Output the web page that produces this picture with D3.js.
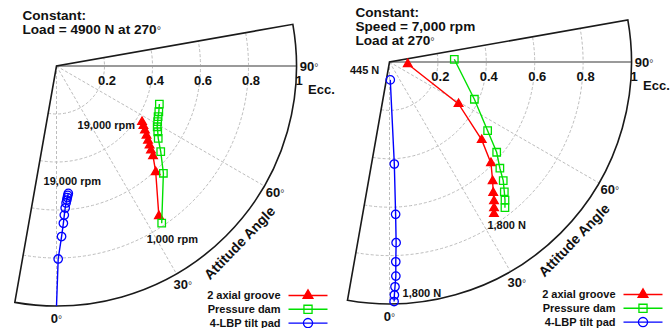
<!DOCTYPE html>
<html>
<head>
<meta charset="utf-8">
<script src="https://cdn.jsdelivr.net/npm/d3@7"></script>
<style>
  body { margin: 0; background: #fff; }
  svg { display: block; }
  text { font-family: "Liberation Sans", Arial, sans-serif; font-weight: bold; fill: #111; }
</style>
</head>
<body>
<svg id="chart" width="672" height="328"></svg>
<script>
// Eccentricity rings and attitude-angle spokes
const eccTicks = [0.2, 0.4, 0.6, 0.8, 1];
const eccTickLabels = ["0.2", "0.4", "0.6", "0.8", "1"];
const angleTicks = [0, 30, 60, 90];
const angleTickLabels = ["0°", "30°", "60°", "90°"];
const seriesNames = ["2 axial groove", "Pressure dam", "4-LBP tilt pad"];

// Constant load 4900 N, speed 1,000 -> 19,000 rpm (step 2,000 rpm)
const speedGrooveEcc = [0.757, 0.605, 0.550, 0.528, 0.510, 0.492, 0.474, 0.456, 0.440, 0.426];
const speedGrooveAng = [34.3, 43.1, 47.0, 48.2, 49.5, 50.8, 52.3, 53.9, 55.4, 56.8];
const speedDamEcc = [0.788, 0.631, 0.562, 0.520, 0.503, 0.490, 0.481, 0.473, 0.467, 0.457];
const speedDamAng = [33.8, 44.9, 50.6, 54.6, 57.0, 58.9, 61.2, 63.5, 65.9, 69.7];
const speedTiltEcc = [0.804, 0.711, 0.656, 0.622, 0.593, 0.572, 0.560, 0.550, 0.541, 0.533];
const speedTiltAng = [0.5, 1.7, 2.5, 3.0, 3.5, 4.0, 4.4, 4.7, 5.0, 5.3];
// tilt pad locus continues (unmarked) down to the bearing wall at zero speed
const speedTiltLeadEcc = [1.0];
const speedTiltLeadAng = [0.0];

// Constant speed 7,000 rpm, load 445 -> 1,800 N
const loadGrooveEcc = [0.076, 0.334, 0.499, 0.592, 0.651, 0.690, 0.719, 0.742, 0.762];
const loadGrooveAng = [83.7, 58.7, 49.8, 45.1, 40.9, 38.4, 36.9, 35.6, 34.5];
const loadDamEcc = [0.268, 0.383, 0.495, 0.579, 0.633, 0.679, 0.716, 0.744, 0.768];
const loadDamAng = [92.4, 66.3, 55.0, 49.9, 46.1, 43.8, 41.5, 39.9, 38.4];
const loadTiltEcc = [0.074, 0.422, 0.630, 0.747, 0.826, 0.885, 0.929, 0.963, 0.990];
const loadTiltAng = [2.5, 2.7, 2.3, 2.1, 1.8, 1.7, 1.4, 1.2, 1.1];

const zip = (ecc, ang) => ecc.map((e, i) => ({ e, t: ang[i] }));

const styles = [
  { color: "#ff0000", symbol: d3.symbolTriangle, size: 32, fill: true },
  { color: "#00e000", symbol: d3.symbolSquare, size: 56, fill: false },
  { color: "#0000ff", symbol: d3.symbolCircle, size: 56, fill: false }
];

const panels = [
  {
    cx: 56.5, cy: 66, R: 240,
    title: ["Constant:", "Load = 4900 N at 270°"], titleX: 22.5, titleY: 20,
    series: [
      { lead: [], pts: zip(speedGrooveEcc, speedGrooveAng) },
      { lead: [], pts: zip(speedDamEcc, speedDamAng) },
      { lead: zip(speedTiltLeadEcc, speedTiltLeadAng), pts: zip(speedTiltEcc, speedTiltAng) }
    ],
    notes: [
      { text: "19,000 rpm", s: 0, i: 9, dx: -7, dy: 7.5, anchor: "end" },
      { text: "19,000 rpm", s: 2, i: 9, dx: 4, dy: -8.5, anchor: "middle" },
      { text: "1,000 rpm", s: 0, i: 0, dx: 13.5, dy: 26.5, anchor: "middle" }
    ],
    legendY: 295.5
  },
  {
    cx: 389.5, cy: 62, R: 242,
    title: ["Constant:", "Speed = 7,000 rpm", "Load at 270°"], titleX: 355.5, titleY: 17,
    series: [
      { lead: [], pts: zip(loadGrooveEcc, loadGrooveAng) },
      { lead: [], pts: zip(loadDamEcc, loadDamAng) },
      { lead: [], pts: zip(loadTiltEcc, loadTiltAng) }
    ],
    notes: [
      { text: "445 N", s: 2, i: 0, dx: -11, dy: -6, anchor: "end" },
      { text: "1,800 N", s: 0, i: 8, dx: -6.5, dy: 15.5, anchor: "start" },
      { text: "1,800 N", s: 2, i: 8, dx: 8.5, dy: -4.5, anchor: "start" }
    ],
    legendY: 294.5
  }
];

const svg = d3.select("#chart");

// text with a light, small degree sign
function label(sel, str) {
  const parts = str.split("°");
  parts.forEach((p, k) => {
    if (p) sel.append("tspan").text(p);
    if (k < parts.length - 1) {
      sel.append("tspan").text("°").attr("font-weight", "normal").attr("font-size", "0.8em").attr("fill", "#444");
    }
  });
  return sel;
}

panels.forEach(p => {
  const g = svg.append("g").attr("transform", `translate(${p.cx},${p.cy})`);
  const r = d3.scaleLinear().domain([0, 1]).range([0, p.R]);
  // attitude angle: 0 deg points down, 90 deg points right
  const a = d3.scaleLinear().domain([0, 90]).range([0, Math.PI / 2]);
  const px = (e, t) => r(e) * Math.sin(a(t));
  const py = (e, t) => r(e) * Math.cos(a(t));
  const tMin = -10, tMax = 100;
  const arcPath = (rad, withWedge) => {
    const path = d3.path();
    if (withWedge) path.moveTo(0, 0);
    path.arc(0, 0, rad, Math.PI / 2 - a(tMin), Math.PI / 2 - a(tMax), true);
    if (withWedge) path.closePath();
    return path.toString();
  };

  // dashed grid
  eccTicks.filter(e => e < 1).forEach(e => {
    g.append("path").attr("d", arcPath(r(e), false))
      .attr("fill", "none").attr("stroke", "#bdbdbd").attr("stroke-width", 1).attr("stroke-dasharray", "3,2");
  });
  angleTicks.filter(t => t < 90).forEach(t => {
    g.append("line").attr("x1", 0).attr("y1", 0).attr("x2", px(1, t)).attr("y2", py(1, t))
      .attr("stroke", "#bdbdbd").attr("stroke-width", 1).attr("stroke-dasharray", "3,2");
  });
  // 90 deg reference axis
  g.append("line").attr("x1", 0).attr("y1", 0).attr("x2", px(1, 90)).attr("y2", py(1, 90))
    .attr("stroke", "#9a9a9a").attr("stroke-width", 2);

  // wedge outline
  g.append("path").attr("d", arcPath(r(1), true))
    .attr("fill", "none").attr("stroke", "#1a1a1a").attr("stroke-width", 1.6).attr("stroke-linejoin", "miter");

  // eccentricity tick labels along the 90 deg axis
  eccTicks.forEach((e, k) => {
    g.append("text").attr("x", px(e, 90) + 2.5).attr("y", 18.5).attr("text-anchor", "middle")
      .attr("font-size", 13).text(eccTickLabels[k]);
  });
  g.append("text").attr("x", r(1) + 11.5).attr("y", 28).attr("font-size", 13).text("Ecc.");

  // angle labels
  angleTicks.forEach((t, k) => {
    const rr = r(1) + 12.5;
    label(g.append("text").attr("x", rr * Math.sin(a(t))).attr("y", rr * Math.cos(a(t)))
      .attr("dy", "0.35em").attr("text-anchor", "middle").attr("font-size", 13), angleTickLabels[k]);
  });
  const tLab = 46, rLab = r(1) + 14.5;
  g.append("text")
    .attr("transform", `translate(${rLab * Math.sin(a(tLab))},${rLab * Math.cos(a(tLab))}) rotate(${-tLab})`)
    .attr("dy", "0.35em").attr("text-anchor", "middle").attr("font-size", 14).text("Attitude Angle");

  // loci
  const line = d3.line().x(d => px(d.e, d.t)).y(d => py(d.e, d.t));
  p.series.forEach((s, k) => {
    const st = styles[k];
    g.append("path").attr("d", line(s.lead.concat(s.pts)))
      .attr("fill", "none").attr("stroke", st.color).attr("stroke-width", 1.4);
    g.selectAll(null).data(s.pts).join("path")
      .attr("transform", d => `translate(${px(d.e, d.t)},${py(d.e, d.t)})`)
      .attr("d", d3.symbol(st.symbol, st.size))
      .attr("fill", st.fill ? st.color : "none")
      .attr("stroke", st.color).attr("stroke-width", 1.3);
  });

  // annotations
  p.notes.forEach(n => {
    const d = p.series[n.s].pts[n.i];
    g.append("text").attr("x", px(d.e, d.t) + n.dx).attr("y", py(d.e, d.t) + n.dy)
      .attr("text-anchor", n.anchor).attr("font-size", 11).text(n.text);
  });

  // title
  p.title.forEach((txt, k) => {
    label(svg.append("text").attr("x", p.titleX).attr("y", p.titleY + k * 14).attr("font-size", 13.6), txt);
  });

  // legend
  const lx0 = p.cx + p.R - 8, lx1 = p.cx + p.R + 31;
  seriesNames.forEach((name, k) => {
    const st = styles[k];
    const y = p.legendY + k * 13.8;
    svg.append("text").attr("x", p.cx + p.R - 16).attr("y", y + 3.8).attr("text-anchor", "end")
      .attr("font-size", 11).text(name);
    svg.append("line").attr("x1", lx0).attr("x2", lx1).attr("y1", y).attr("y2", y)
      .attr("stroke", st.color).attr("stroke-width", 1.4);
    svg.append("path").attr("transform", `translate(${(lx0 + lx1) / 2},${y})`)
      .attr("d", d3.symbol(st.symbol, st.size + 10))
      .attr("fill", st.fill ? st.color : "none").attr("stroke", st.color).attr("stroke-width", 1.3);
  });
});
</script>
</body>
</html>
